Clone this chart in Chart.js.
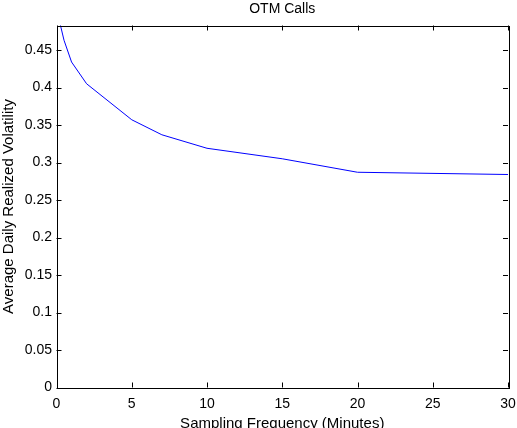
<!DOCTYPE html>
<html>
<head>
<meta charset="utf-8">
<script src="https://cdn.jsdelivr.net/npm/chart.js@4"></script>
<style>
    html, body { margin: 0; padding: 0; background: #fff; }
    #wrap { width: 517px; height: 428px; }
</style>
</head>
<body>
<div id="wrap"><canvas id="volChart" width="517" height="428"></canvas></div>
<script>
// sampling frequency in minutes and the average daily realized volatility
const freqMinutes = [0, 0.5, 1, 2, 5, 7, 10, 15, 20, 30];
const avgVol = [0.505, 0.463, 0.434, 0.405, 0.357, 0.337, 0.319, 0.305, 0.287, 0.284];
const xTicks = [0, 5, 10, 15, 20, 25, 30];
const yTicks = [0, 0.05, 0.1, 0.15, 0.2, 0.25, 0.3, 0.35, 0.4, 0.45];

const FONT = 'Liberation Sans, Arial, Helvetica, sans-serif';
const TICK_LEN = 5;

// matlab style box with inward tick marks on all four sides
const boxPlugin = {
    id: 'matlabBox',
    afterDraw(chart) {
        const ctx = chart.ctx;
        const a = chart.chartArea;
        const xs = chart.scales.x;
        const ys = chart.scales.y;
        ctx.save();
        ctx.strokeStyle = '#000';
        ctx.lineWidth = 1;
        ctx.beginPath();
        xTicks.forEach(t => {
            const px = Math.round(xs.getPixelForValue(t)) + 0.5;
            ctx.moveTo(px, a.bottom);
            ctx.lineTo(px, a.bottom - TICK_LEN);
            ctx.moveTo(px, a.top);
            ctx.lineTo(px, a.top + TICK_LEN);
        });
        yTicks.forEach(t => {
            const py = Math.round(ys.getPixelForValue(t)) + 0.5;
            ctx.moveTo(a.left, py);
            ctx.lineTo(a.left + TICK_LEN, py);
            ctx.moveTo(a.right, py);
            ctx.lineTo(a.right - TICK_LEN, py);
        });
        ctx.stroke();
        ctx.strokeRect(Math.round(a.left) + 0.5, Math.round(a.top) + 0.5,
            Math.round(a.right - a.left), Math.round(a.bottom - a.top));
        ctx.restore();
    }
};

const ctx = document.getElementById('volChart').getContext('2d');
new Chart(ctx, {
    type: 'line',
    data: {
        datasets: [{
            label: 'OTM Calls',
            data: freqMinutes.map((f, i) => ({ x: f, y: avgVol[i] })),
            borderColor: '#0000ff',
            borderWidth: 1,
            pointRadius: 0,
            tension: 0,
            fill: false
        }]
    },
    options: {
        responsive: false,
        animation: false,
        layout: { padding: { left: 0, right: 9, top: 0, bottom: 0 } },
        plugins: {
            legend: { display: false },
            tooltip: { enabled: false },
            title: {
                display: true,
                fullSize: false,
                text: 'OTM Calls',
                color: '#000',
                font: { family: FONT, size: 14, weight: 'normal' },
                padding: { top: 1, bottom: 7.7 }
            }
        },
        scales: {
            x: {
                type: 'linear',
                min: 0,
                max: 30,
                grid: { display: false, drawTicks: false },
                border: { display: false },
                afterBuildTicks: s => { s.ticks = xTicks.map(v => ({ value: v })); },
                afterFit: s => {
                    s.height = 40.5;
                    s.paddingLeft = 0;
                    s.paddingRight = 0;
                },
                ticks: {
                    color: '#000',
                    padding: 8,
                    maxRotation: 0,
                    font: { family: FONT, size: 14 },
                    callback: v => String(v)
                },
                title: {
                    display: true,
                    text: 'Sampling Frequency (Minutes)',
                    color: '#000',
                    font: { family: FONT, size: 15 },
                    padding: { top: 0, bottom: -5 }
                }
            },
            y: {
                type: 'linear',
                min: 0,
                max: 0.4827,
                grid: { display: false, drawTicks: false },
                border: { display: false },
                afterBuildTicks: s => { s.ticks = yTicks.map(v => ({ value: v })); },
                afterFit: s => {
                    s.width = 56.5;
                    s.paddingTop = 0;
                    s.paddingBottom = 0;
                },
                ticks: {
                    color: '#000',
                    padding: 4.5,
                    font: { family: FONT, size: 14 },
                    callback: v => String(+v.toFixed(2))
                },
                title: {
                    display: true,
                    text: 'Average Daily Realized Volatility',
                    color: '#000',
                    font: { family: FONT, size: 15 },
                    padding: { top: 0, bottom: 0 }
                }
            }
        }
    },
    plugins: [boxPlugin]
});
</script>
</body>
</html>
